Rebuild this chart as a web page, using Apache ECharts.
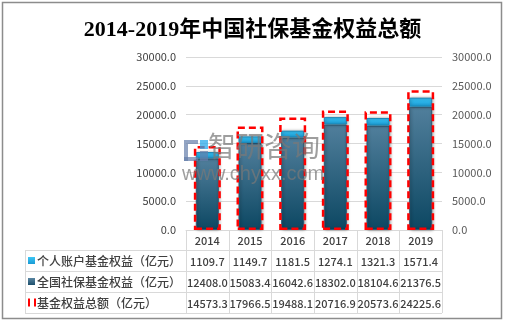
<!DOCTYPE html>
<html>
<head>
<meta charset="utf-8">
<script src="https://cdn.jsdelivr.net/npm/echarts@6/dist/echarts.min.js"></script>
<style>
  html, body { margin: 0; padding: 0; background: #fff; }
  #chart { width: 505px; height: 324px; }
</style>
</head>
<body>
<div id="chart"></div>
<script>
// Years and fund equity values (亿元)
var years = ['2014', '2015', '2016', '2017', '2018', '2019'];
var personalAccount = [1109.7, 1149.7, 1181.5, 1274.1, 1321.3, 1571.4];
var nationalFund = [12408.0, 15083.4, 16042.6, 18302.0, 18104.6, 21376.5];
var totalEquity = [14573.3, 17966.5, 19488.1, 20716.9, 20573.6, 24225.6];
var seriesNames = ['个人账户基金权益（亿元）', '全国社保基金权益（亿元）', '基金权益总额（亿元）'];
var axisTicks = [0, 5000, 10000, 15000, 20000, 25000, 30000];

var FONT = '"Noto Sans CJK SC", "Noto Sans", sans-serif';
var gridLeft = 186, gridRight = 442, gridTop = 57, gridBottom = 230;
var rowEdges = [230, 250, 271, 292, 313];
var tableLeft = 25;
var lineColor = '#d9d9d9';

var chart = echarts.init(document.getElementById('chart'));

// Data table under the plot, built from the series arrays
function buildTable() {
  var els = [];
  var n = years.length;
  var colW = (gridRight - gridLeft) / n;
  els.push({ type: 'line', shape: { x1: gridLeft, y1: rowEdges[0] + 0.5, x2: gridRight, y2: rowEdges[0] + 0.5 }, style: { stroke: lineColor, lineWidth: 1 } });
  for (var r = 1; r < rowEdges.length; r++) {
    els.push({ type: 'line', shape: { x1: tableLeft, y1: rowEdges[r] + 0.5, x2: gridRight, y2: rowEdges[r] + 0.5 }, style: { stroke: lineColor, lineWidth: 1 } });
  }
  els.push({ type: 'line', shape: { x1: tableLeft + 0.5, y1: rowEdges[1], x2: tableLeft + 0.5, y2: rowEdges[4] }, style: { stroke: lineColor, lineWidth: 1 } });
  for (var c = 0; c <= n; c++) {
    var x = Math.round(gridLeft + c * colW) + 0.5;
    els.push({ type: 'line', shape: { x1: x, y1: rowEdges[0], x2: x, y2: rowEdges[4] }, style: { stroke: lineColor, lineWidth: 1 } });
  }
  var rows = [personalAccount, nationalFund, totalEquity];
  for (var i = 0; i < n; i++) {
    var cx = gridLeft + (i + 0.5) * colW;
    els.push({ type: 'text', x: cx, y: (rowEdges[0] + rowEdges[1]) / 2 + 1, style: { text: years[i], font: '500 11px ' + FONT, fill: '#404040', align: 'center', verticalAlign: 'middle' } });
    for (var k = 0; k < rows.length; k++) {
      els.push({ type: 'text', x: cx, y: (rowEdges[k + 1] + rowEdges[k + 2]) / 2 + 1, style: { text: rows[k][i].toFixed(1), font: '500 11px ' + FONT, fill: '#404040', align: 'center', verticalAlign: 'middle' } });
    }
  }
  for (var s = 0; s < seriesNames.length; s++) {
    var yc = (rowEdges[s + 1] + rowEdges[s + 2]) / 2;
    if (s === 0) {
      els.push({ type: 'rect', shape: { x: 28, y: yc - 3.5, width: 7, height: 7 }, style: { fill: new echarts.graphic.LinearGradient(0, 0, 0, 1, [{ offset: 0, color: '#3cc6f5' }, { offset: 1, color: '#1a9ad4' }]) } });
    } else if (s === 1) {
      els.push({ type: 'rect', shape: { x: 28, y: yc - 3.5, width: 7, height: 7 }, style: { fill: new echarts.graphic.LinearGradient(0, 0, 0, 1, [{ offset: 0, color: '#5a86a2' }, { offset: 1, color: '#1d4f6c' }]) } });
    } else {
      els.push({ type: 'rect', shape: { x: 28, y: yc - 4, width: 2, height: 8 }, style: { fill: '#ff0000' } });
      els.push({ type: 'rect', shape: { x: 34, y: yc - 4, width: 2, height: 8 }, style: { fill: '#ff0000' } });
    }
    els.push({ type: 'text', x: 37, y: yc + 1, style: { text: seriesNames[s], font: '500 12px ' + FONT, fill: '#404040', align: 'left', verticalAlign: 'middle' } });
  }
  return els;
}

// Site logo blocks, drawn above the bars
function logo() {
  var b = 'rgba(100,125,170,0.7)';
  return [
    { type: 'rect', z: 100, shape: { x: 184, y: 140, width: 14, height: 4 }, style: { fill: b } },
    { type: 'rect', z: 100, shape: { x: 184, y: 144, width: 4, height: 17 }, style: { fill: b } },
    { type: 'rect', z: 100, shape: { x: 184, y: 157, width: 14, height: 4 }, style: { fill: b } },
    { type: 'rect', z: 100, shape: { x: 200, y: 140, width: 8, height: 9 }, style: { fill: 'rgba(40,170,235,0.75)' } },
    { type: 'rect', z: 100, shape: { x: 200, y: 151, width: 8, height: 10 }, style: { fill: b } }
  ];
}

var markGray = 'rgba(120,120,120,0.72)';

var option = {
  animation: false,
  backgroundColor: '#ffffff',
  title: [
    {
      text: '2014-2019年中国社保基金权益总额',
      left: 'center',
      top: 14,
      textStyle: { fontFamily: '"Liberation Serif", "Noto Sans CJK SC", serif', fontSize: 22, fontWeight: 'bold', color: '#000000' }
    },
    {
      text: '智研咨询', left: 208, top: 132, z: 20, padding: 0,
      textStyle: { fontFamily: FONT, fontSize: 28, fontWeight: 'normal', color: markGray }
    },
    {
      text: 'www.chyxx.com', left: 182, top: 164, z: 20, padding: 0,
      textStyle: { fontFamily: '"Liberation Sans", sans-serif', fontSize: 20, fontWeight: 'normal', color: markGray }
    }
  ],
  grid: { left: gridLeft, right: 505 - gridRight, top: gridTop, bottom: 324 - gridBottom },
  xAxis: [
    {
      type: 'category', data: years,
      axisLine: { show: true, lineStyle: { color: lineColor } },
      axisTick: { show: false }, axisLabel: { show: false }
    },
    { type: 'category', data: years, show: false, position: 'bottom' }
  ],
  yAxis: [
    {
      type: 'value', min: 0, max: 30000, interval: 5000,
      axisLine: { show: false }, axisTick: { show: false },
      splitLine: { lineStyle: { color: lineColor } },
      axisLabel: { margin: 10, color: '#404040', fontSize: 11, fontFamily: FONT,
        formatter: function (v) { return axisTicks.indexOf(v) >= 0 ? v.toFixed(1) : ''; } }
    },
    {
      type: 'value', min: 0, max: 30000, interval: 5000, position: 'right',
      axisLine: { show: false }, axisTick: { show: false }, splitLine: { show: false },
      axisLabel: { margin: 10, color: '#595959', fontSize: 11, fontFamily: FONT,
        formatter: function (v) { return v.toFixed(1); } }
    }
  ],
  series: [
    {
      name: seriesNames[1], type: 'bar', stack: 'fund', xAxisIndex: 0, yAxisIndex: 0,
      barWidth: 23, data: nationalFund,
      itemStyle: {
        color: new echarts.graphic.LinearGradient(0, 0, 0, 1, [
          { offset: 0, color: '#517f9c' }, { offset: 1, color: '#0c4762' }
        ]),
        borderColor: '#2a5a76', borderWidth: 1,
        shadowBlur: 3, shadowColor: 'rgba(0,0,0,0.35)', shadowOffsetX: 1
      }
    },
    {
      name: seriesNames[0], type: 'bar', stack: 'fund', xAxisIndex: 0, yAxisIndex: 0,
      barWidth: 23, data: personalAccount,
      itemStyle: {
        color: new echarts.graphic.LinearGradient(0, 0, 0, 1, [
          { offset: 0, color: '#38c3f4' }, { offset: 1, color: '#1a9cd6' }
        ]),
        borderColor: '#1b88b8', borderWidth: 1,
        shadowBlur: 3, shadowColor: 'rgba(0,0,0,0.3)', shadowOffsetX: 1
      }
    },
    {
      name: seriesNames[2], type: 'bar', xAxisIndex: 1, yAxisIndex: 0,
      barWidth: 27, data: totalEquity, z: 3,
      itemStyle: {
        color: 'rgba(0,0,0,0)', borderColor: '#ff0000', borderWidth: 2.5,
        borderType: [7, 4]
      }
    }
  ],
  graphic: [
    { type: 'rect', shape: { x: 2.5, y: 2.5, width: 499, height: 316 }, style: { fill: 'none', stroke: '#8c8c8c', lineWidth: 1.5 }, silent: true }
  ].concat(buildTable()).concat(logo())
};

chart.setOption(option);
</script>
</body>
</html>
